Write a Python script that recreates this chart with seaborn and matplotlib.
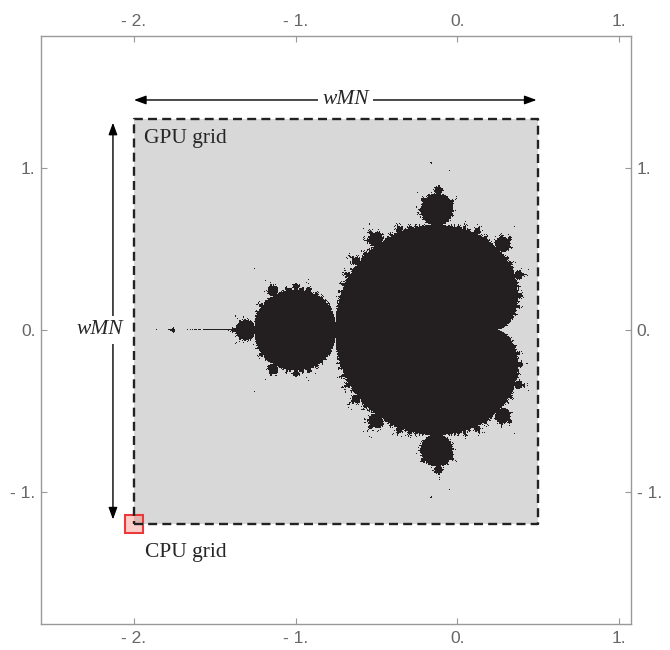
import numpy as np
import pandas as pd
import matplotlib
matplotlib.use("Agg")
import matplotlib.pyplot as plt
import matplotlib.ticker as mticker
from matplotlib.colors import ListedColormap
from matplotlib.patches import Rectangle
import seaborn as sns

sns.set_theme(style="white")
plt.rcParams['font.family'] = ['Liberation Serif', 'DejaVu Serif']

## Data: the GPU grid covers the complex plane window below
gpu_re = [-2.0, 0.5]
gpu_im = [-1.2, 1.3]
grid_n = 400
max_iter = 60
axis_row_offset = 1e-10   # tiny offset of the row lying on the real axis
cpu_center = [-2.0, -1.2]
cpu_half = 0.056
x_ticks = [-2, -1, 0, 1]
y_ticks = [-1, 0, 1]

## Escape-time membership on the GPU grid (rows from top to bottom)
re = np.linspace(gpu_re[0], gpu_re[1], grid_n)
im = np.linspace(gpu_im[1], gpu_im[0], grid_n)
im[np.argmin(np.abs(im))] = axis_row_offset
c = re[None, :] + 1j * im[:, None]
z = np.zeros_like(c)
inside = np.ones(c.shape, dtype=bool)
for _ in range(max_iter):
	z[inside] = z[inside] ** 2 + c[inside]
	inside &= np.abs(z) <= 2.0
mset = pd.DataFrame(inside.astype(int), index=np.round(im, 4), columns=np.round(re, 4))

## Figure
fig = plt.figure(figsize=(6.7, 6.5), dpi=100)
ax = fig.add_axes([41 / 670, 26 / 650, 590 / 670, 588 / 650])
ax.set_xlim(-2.575, 1.074)
ax.set_ylim(-1.815, 1.815)
ax.set_facecolor('white')

## Mandelbrot heatmap placed on the GPU window
ins = ax.inset_axes([gpu_re[0], gpu_im[0], gpu_re[1] - gpu_re[0], gpu_im[1] - gpu_im[0]],
					transform=ax.transData, zorder=1)
sns.heatmap(mset, ax=ins, cmap=ListedColormap(['#d8d8d8', '#231f20']), vmin=0, vmax=1,
			cbar=False, xticklabels=False, yticklabels=False, rasterized=True)
ins.axis('off')

## GPU grid dashed border
bx = [gpu_re[0], gpu_re[1], gpu_re[1], gpu_re[0], gpu_re[0]]
by = [gpu_im[0], gpu_im[0], gpu_im[1], gpu_im[1], gpu_im[0]]
ax.plot(bx, by, color='#222222', lw=1.7, linestyle=(0, (3.8, 2.2)), zorder=4)

## CPU grid square
ax.add_patch(Rectangle((cpu_center[0] - cpu_half, cpu_center[1] - cpu_half), 2 * cpu_half, 2 * cpu_half,
					   facecolor=(0.96, 0.45, 0.40, 0.35), edgecolor='#e8393c', lw=1.5, zorder=3))

## Arrows
aprops = dict(arrowstyle='<|-|>,head_length=0.6,head_width=0.22', color='black', lw=1.0,
			  shrinkA=0, shrinkB=0)
ax.annotate('', xy=(-2.0, 1.42), xytext=(0.49, 1.42), arrowprops=aprops, zorder=5)
ax.annotate('', xy=(-2.13, 1.28), xytext=(-2.13, -1.17), arrowprops=aprops, zorder=5)
wbox = dict(facecolor='white', edgecolor='none', pad=3)
ax.text(-0.69, 1.42, 'wMN', fontsize=15.5, style='italic', ha='center', va='center', bbox=wbox, zorder=6)
ax.text(-2.21, 0.0, 'wMN', fontsize=15.5, style='italic', ha='center', va='center', bbox=wbox, zorder=6)

## Labels
ax.text(-1.935, 1.154, 'GPU grid', fontsize=15.5, ha='left', va='baseline', zorder=6)
ax.text(-1.93, -1.401, 'CPU grid', fontsize=15.5, ha='left', va='baseline', zorder=6)

## Axes style
def fmt(v, pos):
	s = f"{abs(v):.0f}."
	return "- " + s if v < -0.01 else s

ax.set_xticks(x_ticks)
ax.set_yticks(y_ticks)
ax.xaxis.set_major_formatter(mticker.FuncFormatter(fmt))
ax.yaxis.set_major_formatter(mticker.FuncFormatter(fmt))
ax.tick_params(which='both', direction='in', length=4.5, width=0.8, color='#999999',
			   labelcolor='#666666', top=True, right=True, labeltop=True, labelright=True,
			   bottom=True, left=True, labelbottom=True, labelleft=True)
ax.tick_params(axis='x', pad=5)
ax.tick_params(axis='y', pad=4)
for lab in ax.get_xticklabels() + ax.get_yticklabels():
	lab.set_family(['Liberation Sans', 'DejaVu Sans'])
	lab.set_fontsize(12.5)
for sp in ax.spines.values():
	sp.set_color('#999999')
	sp.set_linewidth(1.0)
ax.grid(False)

fig.savefig('out.png', dpi=100)
plt.close(fig)
